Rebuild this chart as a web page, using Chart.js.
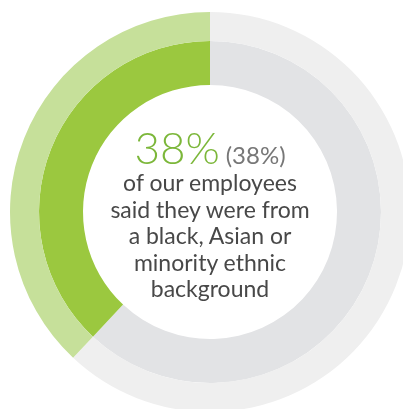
<!DOCTYPE html>
<html>
<head>
<meta charset="utf-8">
<script src="https://cdn.jsdelivr.net/npm/chart.js@4/dist/chart.umd.min.js"></script>
<style>
  html, body { margin: 0; padding: 0; background: #fff; overflow: hidden; }
  #wrap { position: absolute; left: 0; top: 0; width: 420px; height: 424px; }
  #label {
    position: absolute; left: 0; top: 125px; width: 420px;
    text-align: center; font-family: 'Lato', sans-serif; color: #484848;
    font-size: 23px; line-height: 26.5px;
  }
  #label .big { color: #7cb73a; font-size: 44px; font-weight: 300; line-height: 44px; }
  #label .small { color: #777; font-size: 24px; }
</style>
</head>
<body>
<div id="wrap"><canvas id="chart"></canvas></div>
<div id="label">
  <div><span class="big">38%</span> <span class="small">(38%)</span></div>
  <div>of our employees<br>said they were from<br>a black, Asian or<br>minority ethnic<br>background</div>
</div>
<script>
const categories = ['Other', 'Black, Asian or minority ethnic'];
const previousValues = [62, 38];
const currentValues = [62, 38];

const ctx = document.getElementById('chart').getContext('2d');

const chart = new Chart(ctx, {
  type: 'doughnut',
  data: {
    labels: categories,
    datasets: [
      {
        label: 'Previous',
        data: previousValues,
        backgroundColor: ['#efefef', '#c6e09a'],
        borderWidth: 0,
        weight: 29
      },
      {
        label: 'Current',
        data: currentValues,
        backgroundColor: ['#e2e3e5', '#9bc83f'],
        borderWidth: 0,
        weight: 44
      }
    ]
  },
  options: {
    responsive: true,
    maintainAspectRatio: false,
    animation: false,
    cutout: '63.5%',
    layout: { padding: 10 },
    plugins: {
      legend: { display: false },
      tooltip: { enabled: false }
    }
  }
});
</script>
</body>
</html>
